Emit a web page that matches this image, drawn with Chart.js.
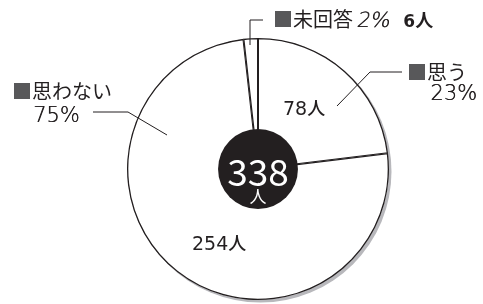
<!DOCTYPE html>
<html>
<head>
<meta charset="utf-8">
<script src="https://cdn.jsdelivr.net/npm/chart.js@4"></script>
<style>
  html, body { margin: 0; padding: 0; background: #fff; }
  #wrap { width: 483px; height: 304px; }
</style>
</head>
<body>
<div id="wrap"><canvas id="pie"></canvas></div>
<script>
const categories = ["思う", "思わない", "未回答"];
const counts = [78, 254, 6];
const percents = [23, 75, 2];
const total = 338;

const CJK = '"Noto Sans CJK JP", "Noto Sans", sans-serif';
const NUM = '"DejaVu Sans", sans-serif';

// gray drop shadow behind the pie
const shadowPlugin = {
    id: "shadow",
    beforeDatasetsDraw: (chart) => {
        const arc = chart.getDatasetMeta(0).data[0];
        const ctx = chart.ctx;
        ctx.save();
        ctx.fillStyle = "#b8b8bc";
        ctx.beginPath();
        ctx.arc(arc.x + 2.5, arc.y + 2.5, arc.outerRadius, 0, Math.PI * 2);
        ctx.fill();
        ctx.restore();
    },
};

const labelPlugin = {
    id: "labels",
    afterDatasetsDraw: (chart) => {
        const arc = chart.getDatasetMeta(0).data[0];
        const cx = arc.x;
        const cy = arc.y;
        const r = arc.outerRadius;
        const ctx = chart.ctx;
        ctx.save();

        // center disc with total
        ctx.fillStyle = "#231f20";
        ctx.beginPath();
        ctx.arc(cx, cy, r * 0.305, 0, Math.PI * 2);
        ctx.fill();
        ctx.fillStyle = "#fff";
        ctx.textAlign = "center";
        ctx.font = "37px " + CJK;
        ctx.fillText(String(total), cx, cy + 17);
        ctx.font = "17px " + CJK;
        ctx.fillText("人", cx, cy + 34);

        // leader lines
        ctx.strokeStyle = "#231f20";
        ctx.lineWidth = 1;
        const line = (pts) => {
            ctx.beginPath();
            ctx.moveTo(cx + pts[0][0], cy + pts[0][1]);
            pts.slice(1).forEach((p) => ctx.lineTo(cx + p[0], cy + p[1]));
            ctx.stroke();
        };
        line([[79, -63], [112, -97], [144, -97]]);
        line([[-91, -34], [-130, -57], [-165, -57]]);
        line([[-8, -124], [-8, -149], [5, -149]]);

        const text = (s, x, y, font, color, align) => {
            ctx.font = font;
            ctx.fillStyle = color;
            ctx.textAlign = align || "left";
            ctx.fillText(s, cx + x, cy + y);
            return ctx.measureText(s).width;
        };
        // thin text drawn twice so it reads darker
        const thin = (s, x, y, font, align) => {
            text(s, x + 0.4, y, font, "#231f20", align);
            return text(s, x, y, font, "#231f20", align);
        };
        const sq = "#58585a";
        const ink = "#231f20";
        const pctFont = "200 21px " + NUM;
        const cntFont = "19px " + NUM;
        const ninFont = "500 18px " + CJK;

        // 思う
        let w = text("■", 149, -89, "20px " + CJK, sq);
        text(categories[0], 149 + w, -89, "20px " + CJK, ink);
        thin(percents[0] + "%", 219, -69, pctFont, "right");
        w = text(String(counts[0]), 25, -54, cntFont, ink);
        text("人", 25 + w, -54, ninFont, ink);

        // 思わない
        w = text("■", -246, -70, "20px " + CJK, sq);
        text(categories[1], -246 + w, -70, "20px " + CJK, ink);
        thin(percents[1] + "%", -225, -47, pctFont);
        w = text(String(counts[1]), -66, 81, cntFont, ink);
        text("人", -66 + w, 81, ninFont, ink);

        // 未回答 (percent slanted)
        w = text("■", 15, -142, "20px " + CJK, sq);
        w += text(categories[2], 15 + w, -142, "20px " + CJK, ink) + 3;
        ctx.save();
        ctx.translate(cx + 15 + w, cy - 142);
        ctx.transform(1, 0, -0.2, 1, 0, 0);
        ctx.font = pctFont;
        ctx.fillStyle = ink;
        ctx.textAlign = "left";
        ctx.fillText(percents[2] + "%", 0.4, 0);
        ctx.fillText(percents[2] + "%", 0, 0);
        w += ctx.measureText(percents[2] + "%").width;
        ctx.restore();
        const w6 = text(String(counts[2]), 29 + w, -142, "bold 17px " + NUM, ink);
        text("人", 29 + w + w6, -142, "bold 18px " + CJK, ink);

        ctx.restore();
    },
};

new Chart(document.getElementById("pie"), {
    type: "pie",
    data: {
        labels: categories,
        datasets: [
            {
                data: counts,
                backgroundColor: "#ffffff",
                borderColor: "#231f20",
                borderWidth: 1,
                borderAlign: "inner",
            },
        ],
    },
    options: {
        responsive: true,
        maintainAspectRatio: false,
        animation: false,
        layout: {
            padding: { left: 127, right: 94, top: 38, bottom: 4 },
        },
        plugins: {
            legend: { display: false },
            tooltip: { enabled: false },
        },
    },
    plugins: [shadowPlugin, labelPlugin],
});
</script>
</body>
</html>
